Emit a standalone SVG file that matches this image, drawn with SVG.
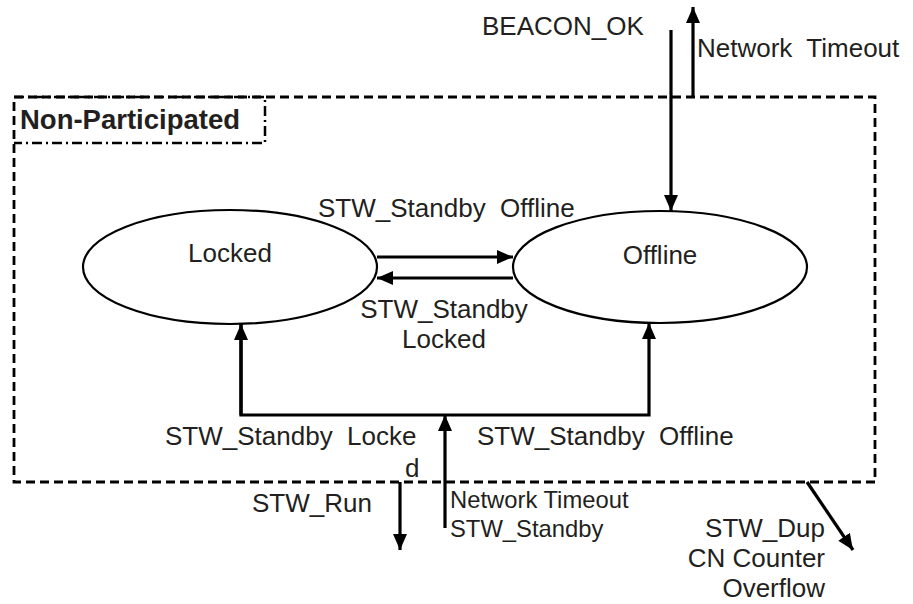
<svg xmlns="http://www.w3.org/2000/svg" width="913" height="604" viewBox="0 0 913 604">
<style>
  .lbl { font-family: "Liberation Sans", Arial, sans-serif; font-size: 26px; fill: #231f20; }
  .sm { font-size: 23.8px; }
  .bold { font-weight: bold; fill: #231f20; font-size: 27.5px; }
  .state { fill: #fff; stroke: #000; stroke-width: 2.2; }
  .conn { fill: none; stroke: #000; stroke-width: 3.2; }
  .frame { fill: none; stroke: #000; stroke-width: 2.8; stroke-dasharray: 9 5; }
  .dashdot { fill: none; stroke: #000; stroke-width: 2.5; stroke-dasharray: 10 4 2 4; }
</style>
<defs>
  <marker id="ah" viewBox="0 0 16 14" refX="16" refY="7" markerWidth="16" markerHeight="14" markerUnits="userSpaceOnUse" orient="auto">
    <path d="M0,0 L16,7 L0,14 Z" fill="#000"/>
  </marker>
</defs>
<rect fill="#fff" x="0" y="0" width="913" height="604"/>

<g id="region-non-participated">
  <rect class="frame" x="14" y="97" width="861" height="385"/>
  <path class="dashdot" d="M14,97 H265 V143 H14"/>
  <text class="lbl bold" x="20" y="129">Non-Participated</text>
</g>

<g id="node-locked">
  <ellipse class="state" cx="230" cy="267" rx="147" ry="57"/>
  <text class="lbl" x="230" y="262" text-anchor="middle">Locked</text>
</g>

<g id="node-offline">
  <ellipse class="state" cx="660" cy="267" rx="147" ry="56"/>
  <text class="lbl" x="660" y="264" text-anchor="middle">Offline</text>
</g>

<g id="connectors">
  <line class="conn" x1="377" y1="257" x2="513" y2="257" marker-end="url(#ah)"/>
  <line class="conn" x1="513" y1="278" x2="377" y2="278" marker-end="url(#ah)"/>
  <line class="conn" x1="671" y1="30" x2="671" y2="211" marker-end="url(#ah)"/>
  <line class="conn" x1="693" y1="97" x2="693" y2="7" marker-end="url(#ah)"/>
  <path class="conn" d="M241,324 V415 H649 V323" marker-end="url(#ah)"/>
  <line class="conn" x1="241" y1="415" x2="241" y2="324" marker-end="url(#ah)"/>
  <line class="conn" x1="445" y1="528" x2="445" y2="415" marker-end="url(#ah)"/>
  <line class="conn" x1="400" y1="482" x2="400" y2="550" marker-end="url(#ah)"/>
  <line class="conn" x1="807" y1="482" x2="853" y2="550" marker-end="url(#ah)"/>
</g>

<g id="labels">
  <text class="lbl" x="318" y="217" xml:space="preserve">STW_Standby  Offline</text>
  <text class="lbl" x="444" y="318" text-anchor="middle">STW_Standby</text>
  <text class="lbl" x="444" y="348" text-anchor="middle">Locked</text>
  <text class="lbl" x="165" y="445" xml:space="preserve">STW_Standby  Locke</text>
  <text class="lbl" x="405" y="477">d</text>
  <text class="lbl" x="477" y="445" xml:space="preserve">STW_Standby  Offline</text>
  <text class="lbl" x="252" y="512">STW_Run</text>
  <text class="lbl sm" x="450" y="508">Network Timeout</text>
  <text class="lbl sm" x="450" y="537">STW_Standby</text>
  <text class="lbl" x="482" y="35">BEACON_OK</text>
  <text class="lbl" x="697" y="57" xml:space="preserve">Network  Timeout</text>
  <text class="lbl" x="825" y="537" text-anchor="end">STW_Dup</text>
  <text class="lbl" x="825" y="567" text-anchor="end">CN Counter</text>
  <text class="lbl" x="825" y="597" text-anchor="end">Overflow</text>
</g>
</svg>
